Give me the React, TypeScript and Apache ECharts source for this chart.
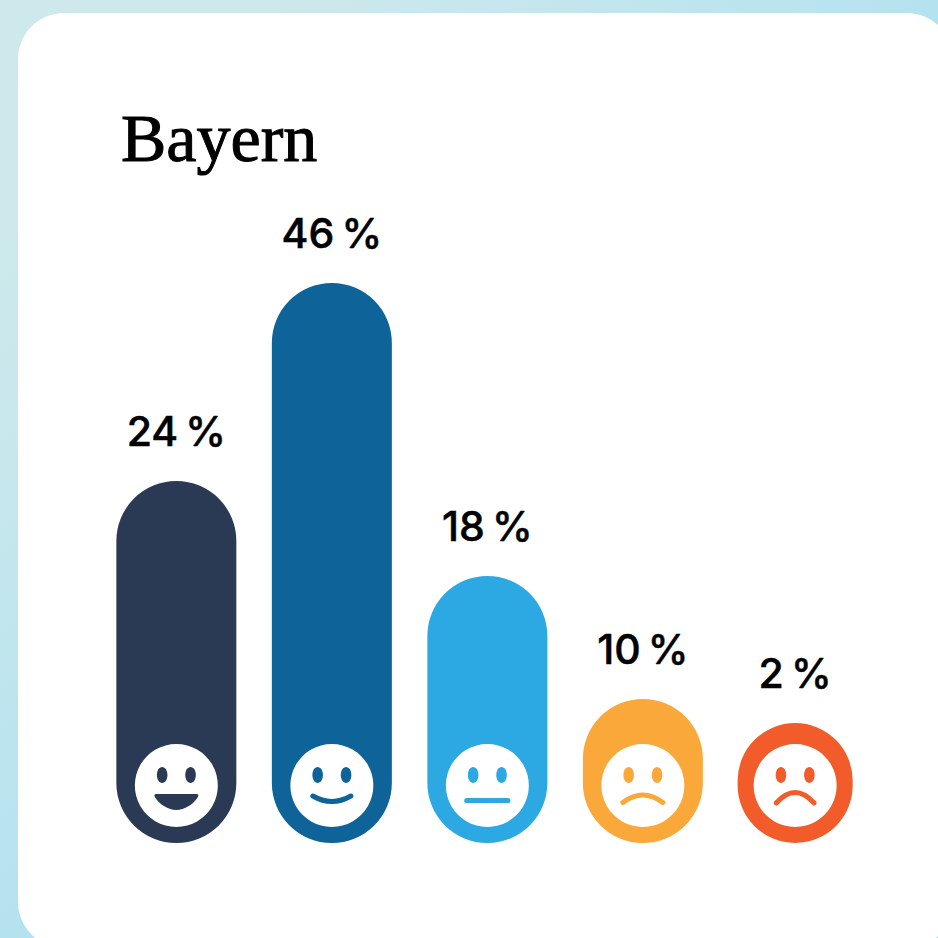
import React, { useEffect, useRef } from "react";
import * as echarts from "echarts";

const title = "Bayern";
const moods = ["laugh", "smile", "neutral", "sad", "verySad"];
const shares = [24, 46, 18, 10, 2];
// The source's pills are not proportional to the printed shares, so lengths are read separately.
const drawnLengths = [362, 560, 267, 144, 120];
const colors = ["#2b3a54", "#0e6498", "#2ca9e2", "#faa83a", "#f25c2a"];

const PILL_WIDTH = [120, 120, 120, 120, 115];
const PILL_SHIFT = [0, 0, 0, 0, -3.2];
const FACE_R = 41.5;
const FACE_CY_FROM_BOTTOM = 57.5;

echarts.graphic.registerShape(
  "laughMouth",
  echarts.graphic.extendPath(
    "M -20 8.5 L 20 8.5 Q 23 8.5 21.5 11.5 C 17 19 8 24.5 0 24.5 C -8 24.5 -17 19 -21.5 11.5 Q -23 8.5 -20 8.5 Z",
    {}
  )
);

function mouth(mood: string, cx: number, cy: number, color: string) {
  if (mood === "laugh") {
    return { type: "laughMouth", x: cx, y: cy, style: { fill: color } };
  }
  const ends: Record<string, number[]> = {
    smile: [-19, 10.5, 21.5, 5],
    neutral: [-20.5, 15, 15, 5.2],
    sad: [-20, 17, 2, 5],
    verySad: [-19, 17.5, -3.5, 5],
  };
  const [dx, dy, c, w] = ends[mood];
  return {
    type: "bezierCurve",
    shape: { x1: cx + dx, y1: cy + dy, x2: cx - dx, y2: cy + dy, cpx1: cx, cpy1: cy + c },
    style: { stroke: color, lineWidth: w, lineCap: "round", fill: "none" },
  };
}

export default function App() {
  const ref = useRef<HTMLDivElement>(null);
  useEffect(() => {
    const chart = echarts.init(ref.current!, undefined, { renderer: "svg" });
    chart.setOption({
      animation: false,
      backgroundColor: new echarts.graphic.LinearGradient(0, 0, 1, 1, [
        { offset: 0, color: "#cfe9eb" },
        { offset: 0.2, color: "#cae8ec" },
        { offset: 0.5, color: "#b5e2ef" },
        { offset: 1, color: "#b5e2ef" },
      ]),
      graphic: [
        {
          type: "rect",
          z: -1,
          shape: { x: 18, y: 13, width: 935, height: 935, r: 46 },
          style: { fill: "#ffffff" },
        },
      ],
      title: {
        text: title,
        left: 121,
        top: 104,
        padding: 0,
        textStyle: {
          fontFamily: "Liberation Serif",
          fontSize: 68,
          fontWeight: "normal",
          color: "#000000",
          textBorderColor: "#000000",
          textBorderWidth: 1,
        },
      },
      grid: { left: 98.6, width: 777.5, top: 243, height: 600 },
      xAxis: { type: "category", data: moods, show: false },
      yAxis: { type: "value", min: 0, max: 600, show: false },
      series: [
        {
          type: "custom",
          clip: false,
          encode: { x: 0, y: 1 },
          data: moods.map((m, i) => [m, drawnLengths[i], shares[i]]),
          renderItem: (params: any, api: any) => {
            const i = params.dataIndex;
            const base = api.coord([i, 0]);
            const top = api.coord([i, api.value(1)]);
            const w = PILL_WIDTH[i];
            const cx = base[0] + PILL_SHIFT[i];
            const cy = base[1] - FACE_CY_FROM_BOTTOM;
            const color = colors[i];
            return {
              type: "group",
              children: [
                {
                  type: "rect",
                  shape: { x: cx - w / 2, y: top[1], width: w, height: base[1] - top[1], r: w / 2 },
                  style: { fill: color },
                },
                { type: "circle", shape: { cx, cy, r: FACE_R }, style: { fill: "#ffffff" } },
                { type: "ellipse", shape: { cx: cx - 14.2, cy: cy - 10.5, rx: 5.3, ry: 8 }, style: { fill: color } },
                { type: "ellipse", shape: { cx: cx + 14.2, cy: cy - 10.5, rx: 5.3, ry: 8 }, style: { fill: color } },
                mouth(moods[i], cx, cy, color),
                {
                  type: "text",
                  style: {
                    x: cx,
                    y: top[1] - 50.5,
                    text: api.value(2) + "\u2009%",
                    textAlign: "center",
                    textVerticalAlign: "middle",
                    fontFamily: "Inter",
                    fontSize: 41,
                    fontWeight: 500,
                    fill: "#000000",
                    stroke: "#000000",
                    lineWidth: 0.5,
                  },
                },
              ],
            };
          },
        },
      ],
    });
    return () => chart.dispose();
  }, []);
  return (
    <div
      ref={ref}
      style={{ position: "absolute", left: 0, top: 0, width: 938, height: 938, overflow: "hidden" }}
    />
  );
}
